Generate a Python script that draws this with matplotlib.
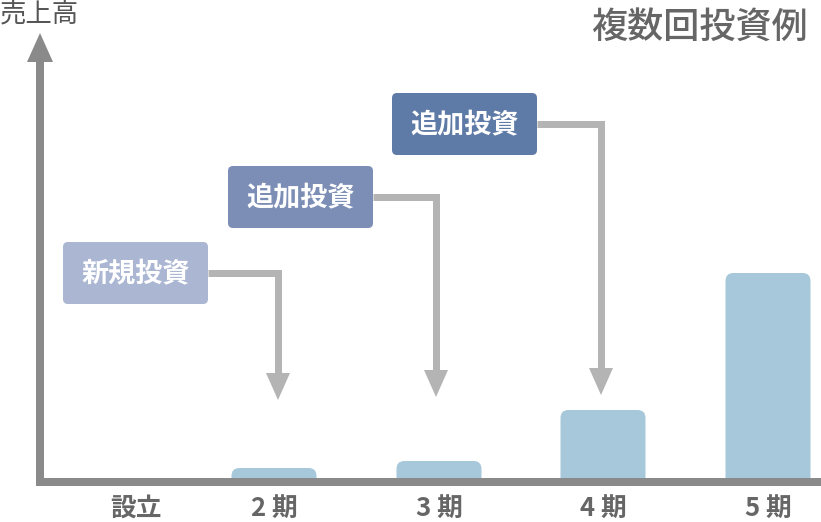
import matplotlib
matplotlib.use('Agg')
import matplotlib.pyplot as plt
from matplotlib.patches import FancyBboxPatch, Polygon

plt.rcParams['font.family'] = ['Noto Sans CJK JP', 'DejaVu Sans']

# data
periods = ['設立', '2 期', '3 期', '4 期', '5 期']
sales = [0, 10, 17, 68, 205]          # bar heights (px units on the baseline scale)
invest_labels = ['新規投資', '追加投資', '追加投資']
invest_colors = ['#aab6d2', '#7c8eb5', '#5e7aa6']

title = '複数回投資例'
ylabel = '売上高'

# layout (pixel coordinates, y downwards)
W, H = 821, 522
centers = [136, 274, 439, 603, 768]
bar_w = 85
base = 478
axis_col = '#8a8a8a'
bar_col = '#a7c8da'
arrow_col = '#b4b4b4'
txt_col = '#666666'

fig = plt.figure(figsize=(W / 100, H / 100), dpi=100)
ax = fig.add_axes([0, 0, 1, 1])
ax.set_xlim(0, W)
ax.set_ylim(H, 0)
ax.axis('off')

# bars with rounded tops
for c, v in zip(centers, sales):
    if v <= 0:
        continue
    ax.add_patch(FancyBboxPatch((c - bar_w / 2, base - v), bar_w, v + 8,
                                boxstyle='round,pad=0,rounding_size=8',
                                fc=bar_col, ec='none', zorder=2))

# axes lines
ax.plot([37, W], [482, 482], color=axis_col, lw=8 * 0.72, solid_capstyle='butt', zorder=3)
ax.plot([40, 40], [486, 58], color=axis_col, lw=8 * 0.72, solid_capstyle='butt', zorder=3)
ax.add_patch(Polygon([[27, 62], [53, 62], [40, 33]], closed=True, fc=axis_col, ec='none', zorder=3))

# investment boxes + arrows
boxes = [(63, 242), (228, 166), (392, 93)]
arrow_x = [278, 436, 601]
tips = [400, 397, 395]
bw, bh = 145, 62
for (bx, by), lab, col, axx, tip in zip(boxes, invest_labels, invest_colors, arrow_x, tips):
    ax.add_patch(FancyBboxPatch((bx, by), bw, bh,
                                boxstyle='round,pad=0,rounding_size=5',
                                fc=col, ec='none', zorder=4))
    ax.text(bx + bw / 2, by + bh / 2, lab, color='white', fontsize=19.5,
            fontweight='bold', ha='center', va='center', zorder=5)
    ym = by + bh / 2
    ax.plot([bx + bw, axx, axx], [ym, ym, tip - 25], color=arrow_col,
            lw=7 * 0.72, solid_joinstyle='miter', solid_capstyle='butt', zorder=3)
    ax.add_patch(Polygon([[axx - 12, tip - 27], [axx + 12, tip - 27], [axx, tip]],
                         closed=True, fc=arrow_col, ec='none', zorder=3))

# tick labels
for c, p in zip(centers, periods):
    ax.text(c, 508, p, color=txt_col, fontsize=18.5, fontweight='bold',
            ha='center', va='center')

ax.text(0, 14, ylabel, color='#555555', fontsize=19, ha='left', va='center')
ax.text(808, 28, title, color=txt_col, fontsize=26, fontweight='medium',
        ha='right', va='center')

fig.savefig('out.png', dpi=100)
